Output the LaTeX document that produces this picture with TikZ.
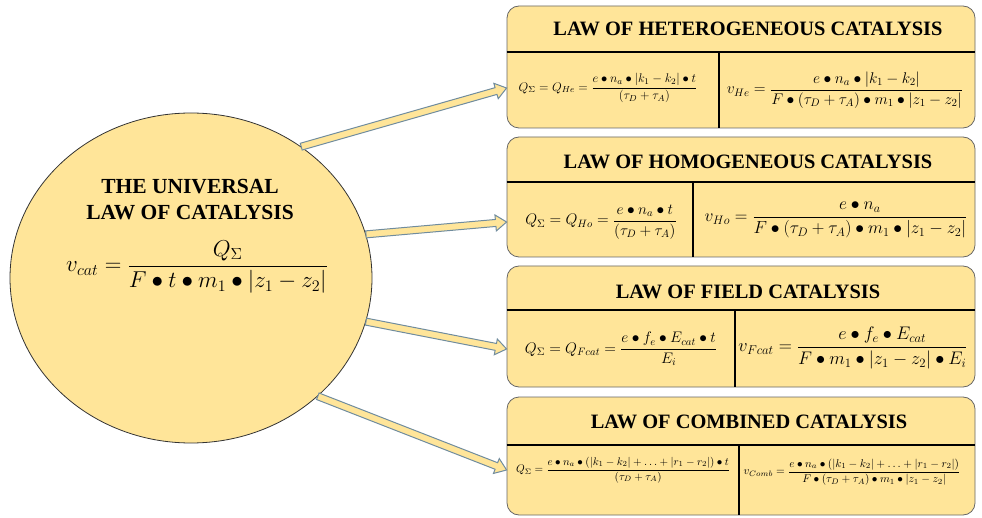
\RequirePackage{fix-cm}
\documentclass[tikz,border=0pt]{standalone}
\usepackage{amsmath}
\usepackage{fontspec}
\setmainfont{Liberation Serif}
\usetikzlibrary{shapes.geometric, calc}
\definecolor{lawfill}{RGB}{255,229,153}
\definecolor{arrowline}{RGB}{112,140,158}
\tikzset{%
	lawbox/.style = { draw=gray!80!black, fill=lawfill, rounded corners=12pt, line width=0.8pt, minimum width=468pt },
	lawtitle/.style = { font=\bfseries\fontsize{20.4}{22}\selectfont, inner sep=0pt },
	rule/.style = { black, line width=1.6pt },
	cell/.style = { font=\fontsize{#1}{#1}\selectfont, inner sep=0pt },
	fat/.style = { draw=arrowline, fill=lawfill, line width=1pt }
}
% fat arrow from #1 to #2
\newcommand{\fatarrow}[2]{%
	\coordinate (neck) at ($(#2)!11pt!(#1)$);
	\filldraw[fat] ($(#1)!3.5pt!90:(#2)$) -- ($(neck)!3.5pt!90:(#2)$) -- ($(neck)!8pt!90:(#2)$)
		-- (#2) -- ($(neck)!8pt!-90:(#2)$) -- ($(neck)!3.5pt!-90:(#2)$) -- ($(#1)!3.5pt!-90:(#2)$) -- cycle;
}

\begin{document}
\begin{tikzpicture}[x=1pt, y=-1pt]
	\useasboundingbox (0,0) rectangle (982,518);
	% universal law
	\node[ellipse, draw=black!80, fill=lawfill, line width=0.8pt, minimum width=362pt, minimum height=330pt] (circ) at (191,278) {};
	\node[font=\bfseries\fontsize{21.5}{26}\selectfont, align=center, inner sep=0pt] (circT) at (190,200) {THE UNIVERSAL\\LAW OF CATALYSIS};
	\node[cell=23] (circV) at (197,267)
		{$\displaystyle v_{cat} = \frac{Q_\Sigma}{F\bullet t\bullet m_1\bullet\left|z_1-z_2\right|}$};
	% boxes
	\node[lawbox, minimum height=122pt] (he) at (741,67) {};
	\node[lawbox, minimum height=120pt] (ho) at (741,197) {};
	\node[lawbox, minimum height=121pt] (fi) at (741,326.5) {};
	\node[lawbox, minimum height=118pt] (co) at (741,456) {};
	% header rules and dividers
	\draw[rule] (he.west |- 0,52) -- (he.east |- 0,52);
	\draw[rule] (719,52) -- (719,128);
	\draw[rule] (ho.west |- 0,182) -- (ho.east |- 0,182);
	\draw[rule] (693,182) -- (693,257);
	\draw[rule] (fi.west |- 0,310) -- (fi.east |- 0,310);
	\draw[rule] (735,310) -- (735,387);
	\draw[rule] (co.west |- 0,445) -- (co.east |- 0,445);
	\draw[rule] (739,445) -- (739,515);
	% titles
	\node[lawtitle] (heT) at (748,29) {LAW OF HETEROGENEOUS CATALYSIS};
	\node[lawtitle] (hoT) at (748,162) {LAW OF HOMOGENEOUS CATALYSIS};
	\node[lawtitle] (fiT) at (748,292) {LAW OF FIELD CATALYSIS};
	\node[lawtitle] (coT) at (749,422) {LAW OF COMBINED CATALYSIS};
	% formulas
	\node[cell=12.5] (heQ) at (608,88) {$Q_\Sigma = Q_{He} = \dfrac{e\bullet n_a\bullet|k_1-k_2|\bullet t}{(\tau_D+\tau_A)}$};
	\node[cell=15.5] (heV) at (845,90) {$v_{He} = \dfrac{e\bullet n_a\bullet|k_1-k_2|}{F\bullet(\tau_D+\tau_A)\bullet m_1\bullet|z_1-z_2|}$};
	\node[cell=15.3] (hoQ) at (601,222) {$Q_\Sigma = Q_{Ho} = \dfrac{e\bullet n_a\bullet t}{(\tau_D+\tau_A)}$};
	\node[cell=17.5] (hoV) at (836,220) {$v_{Ho} = \dfrac{e\bullet n_a}{F\bullet(\tau_D+\tau_A)\bullet m_1\bullet|z_1-z_2|}$};
	\node[cell=15.3] (fiQ) at (621,349) {$Q_\Sigma = Q_{Fcat} = \dfrac{e\bullet f_e\bullet E_{cat}\bullet t}{E_i}$};
	\node[cell=18.2] (fiV) at (853,348) {$v_{Fcat} = \dfrac{e\bullet f_e\bullet E_{cat}}{F\bullet m_1\bullet|z_1-z_2|\bullet E_i}$};
	\node[cell=11.05] (coQ) at (623,470) {$Q_\Sigma = \dfrac{e\bullet n_a\bullet(|k_1-k_2|+\ldots+|r_1-r_2|)\bullet t}{(\tau_D+\tau_A)}$};
	\node[cell=11.25] (coV) at (852,472) {$v_{Comb} = \dfrac{e\bullet n_a\bullet(|k_1-k_2|+\ldots+|r_1-r_2|)}{F\bullet(\tau_D+\tau_A)\bullet m_1\bullet|z_1-z_2|}$};
	% arrows
	\fatarrow{circ.50}{he.west |- heQ}
	\fatarrow{circ.14}{ho.west |- hoQ}
	\fatarrow{circ.-14}{fi.west |- fiQ}
	\fatarrow{circ.-43}{co.west |- coQ}
\end{tikzpicture}
\end{document}
